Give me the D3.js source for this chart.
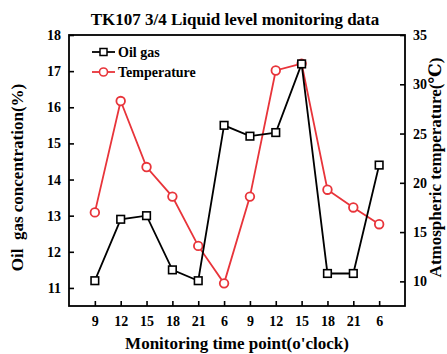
<!DOCTYPE html>
<html><head><meta charset="utf-8">
<script src="https://cdn.jsdelivr.net/npm/d3@7"></script>
<style>body{margin:0;background:#fff}svg{display:block}svg text{font-family:"Times New Roman","Liberation Serif","DejaVu Serif",serif !important;font-weight:bold}</style>
</head><body>
<script>
const categories = ["9","12","15","18","21","6","9","12","15","18","21","6"];
const oilGas = [11.2,12.9,13.0,11.5,11.2,15.5,15.2,15.3,17.2,11.4,11.4,14.4];
const temperature = [17.0,28.3,21.6,18.6,13.6,9.8,18.6,31.4,32.1,19.3,17.5,15.8];
const leftTicks = [11,12,13,14,15,16,17,18];
const rightTicks = [10,15,20,25,30,35];
const title = "TK107 3/4 Liquid level monitoring data";

const W=447,H=354;
const m={l:69,r:405,t:35,b:306};
const svg=d3.select("body").append("svg").attr("width",W).attr("height",H);
const x=d3.scaleLinear().domain([-1,categories.length]).range([m.l,m.r]);
const yL=d3.scaleLinear().domain([10.5,18]).range([m.b,m.t]);
const yR=d3.scaleLinear().domain([7.5,35]).range([m.b,m.t]);
const red="#e8343a";

// frame
svg.append("rect").attr("x",m.l).attr("y",m.t).attr("width",m.r-m.l).attr("height",m.b-m.t)
  .attr("fill","none").attr("stroke","#000").attr("stroke-width",1.8);

const ax=svg.append("g").attr("transform",`translate(0,${m.b})`)
  .call(d3.axisBottom(x).tickValues(d3.range(categories.length)).tickFormat(i=>categories[i]).tickSizeInner(-5).tickSizeOuter(0).tickPadding(10));
const al=svg.append("g").attr("transform",`translate(${m.l},0)`)
  .call(d3.axisLeft(yL).tickValues(leftTicks).tickSizeInner(-5).tickSizeOuter(0).tickPadding(8));
const ar=svg.append("g").attr("transform",`translate(${m.r},0)`)
  .call(d3.axisRight(yR).tickValues(rightTicks).tickSizeInner(-5).tickSizeOuter(0).tickPadding(8));
[ax,al,ar].forEach(g=>{
  g.attr("font-family",null);
  g.select(".domain").remove();
  g.selectAll(".tick line").attr("stroke","#000").attr("stroke-width",1.6);
  g.selectAll(".tick text").attr("font-size",14).attr("fill","#000");
});

// temperature series
const lineR=d3.line().x((d,i)=>x(i)).y(d=>yR(d));
svg.append("path").datum(temperature).attr("d",lineR).attr("fill","none").attr("stroke",red).attr("stroke-width",1.8);
svg.selectAll("circle.t").data(temperature).join("circle").attr("class","t")
  .attr("cx",(d,i)=>x(i)).attr("cy",d=>yR(d)).attr("r",4.3)
  .attr("fill","#fff").attr("stroke",red).attr("stroke-width",1.8);

// oil gas series
const lineL=d3.line().x((d,i)=>x(i)).y(d=>yL(d));
svg.append("path").datum(oilGas).attr("d",lineL).attr("fill","none").attr("stroke","#000").attr("stroke-width",1.8);
svg.selectAll("rect.o").data(oilGas).join("rect").attr("class","o")
  .attr("x",(d,i)=>x(i)-3.8).attr("y",d=>yL(d)-3.8).attr("width",7.6).attr("height",7.6)
  .attr("fill","#fff").attr("stroke","#000").attr("stroke-width",1.6);

// legend
const leg=[{name:"Oil gas",c:"#000",s:"sq",y:52},{name:"Temperature",c:red,s:"ci",y:72}];
leg.forEach(l=>{
  const g=svg.append("g");
  g.append("line").attr("x1",92).attr("x2",115).attr("y1",l.y).attr("y2",l.y).attr("stroke",l.c).attr("stroke-width",1.8);
  if(l.s==="sq") g.append("rect").attr("x",100).attr("y",l.y-3.5).attr("width",7).attr("height",7).attr("fill","#fff").attr("stroke",l.c).attr("stroke-width",1.5);
  else g.append("circle").attr("cx",103.5).attr("cy",l.y).attr("r",4).attr("fill","#fff").attr("stroke",l.c).attr("stroke-width",1.6);
  g.append("text").attr("x",118).attr("y",l.y+5).attr("font-size",14).text(l.name);
});

// titles
svg.append("text").attr("x",(m.l+m.r)/2-2).attr("y",25).attr("text-anchor","middle").attr("font-size",17).text(title);
svg.append("text").attr("x",(m.l+m.r)/2).attr("y",349).attr("text-anchor","middle").attr("font-size",17).text("Monitoring time point(o'clock)");
svg.append("text").attr("transform",`translate(23,${(m.t+m.b)/2+7}) rotate(-90)`).attr("text-anchor","middle").attr("font-size",17).style("white-space","pre").text("Oil  gas concentration(%)");
svg.append("text").attr("transform",`translate(441,${(m.t+m.b)/2-3}) rotate(-90)`).attr("text-anchor","middle").attr("font-size",17).text("Atmospheric temperature(℃)");
</script>
</body></html>
